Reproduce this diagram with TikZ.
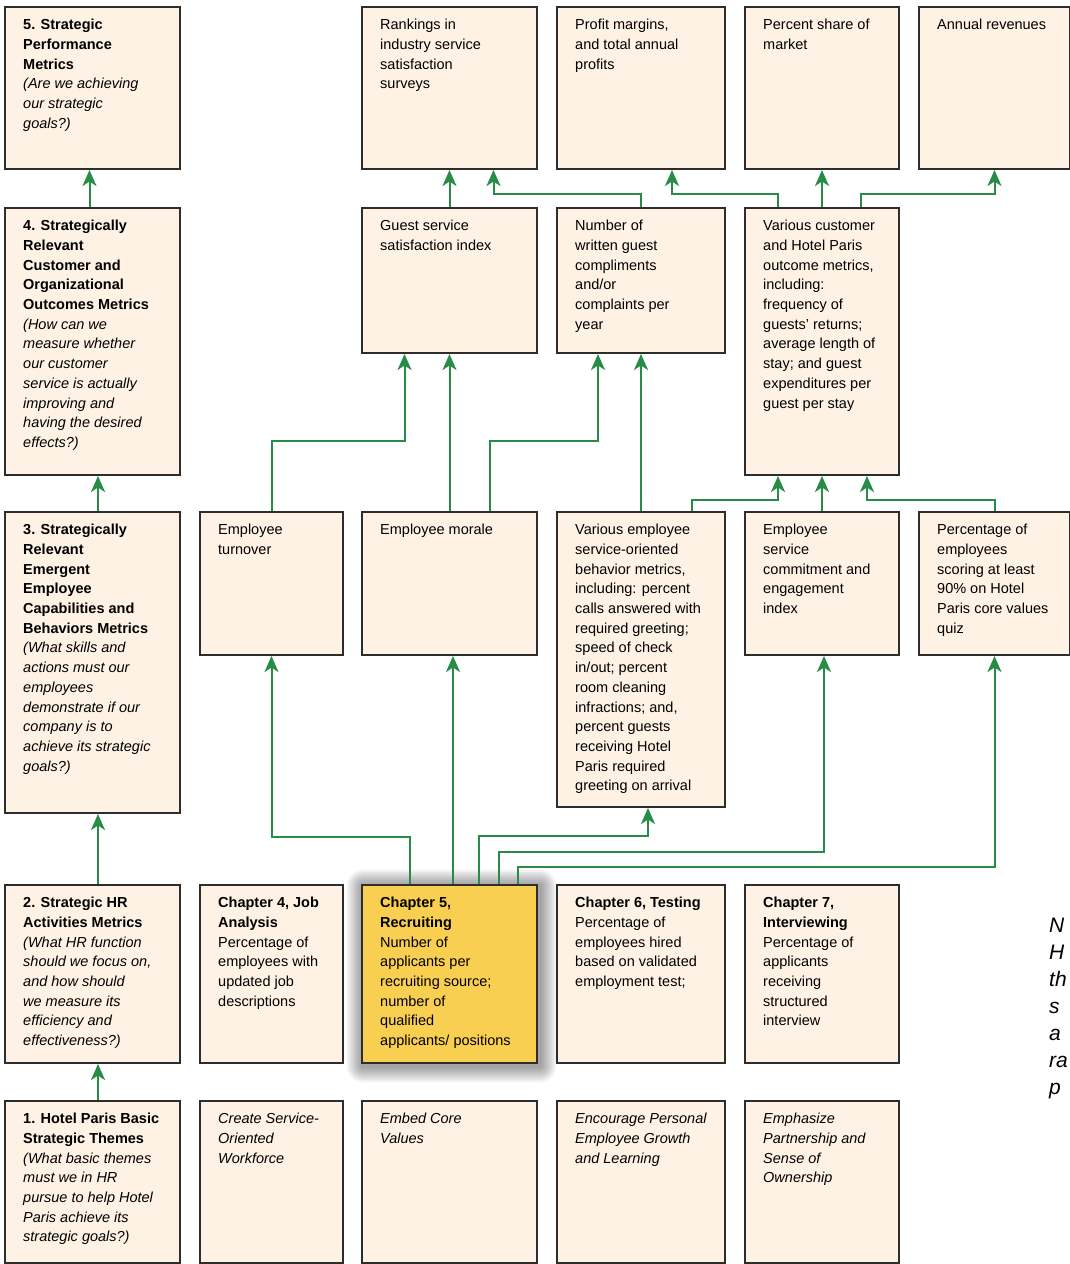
\documentclass[tikz,border=0pt]{standalone}
\usepackage{fontspec}
\setmainfont{Liberation Sans}
\usepackage{tikz}
\usetikzlibrary{positioning, arrows.meta, calc, backgrounds}
\definecolor{cream}{RGB}{254,242,228}
\definecolor{gold}{RGB}{248,207,80}
\definecolor{edge}{RGB}{45,45,45}
\definecolor{leaf}{RGB}{38,140,70}
\tikzset{
  cell/.style={draw=edge, line width=2pt, fill=cream, anchor=north west, inner sep=0pt},
  hot/.style={cell, fill=gold},
  note/.style={anchor=north west, align=left, inner sep=0pt, xshift=19pt, yshift=-13pt,
    font=\fontsize{14.5}{19.7}\selectfont},
  link/.style={draw=leaf, line width=2pt, -{Stealth[length=16pt, width=14pt, inset=4.5pt]}},
}

\begin{document}
\begin{tikzpicture}[x=1pt, y=-1pt]
  \useasboundingbox (0,0) rectangle (1070,1264);

  % left column: the five levels
  \node[cell, minimum width=175pt, minimum height=162pt] (perf) at (4,6) {};
  \node[note] (perf-t) at (perf.north west) {\textbf{5. Strategic}\\\textbf{Performance}\\\textbf{Metrics}\\\textit{(Are we achieving}\\\textit{our strategic}\\\textit{goals?)}};
  \node[cell, minimum width=175pt, minimum height=267pt] (outc) at (4,207) {};
  \node[note] (outc-t) at (outc.north west) {\textbf{4. Strategically}\\\textbf{Relevant}\\\textbf{Customer and}\\\textbf{Organizational}\\\textbf{Outcomes Metrics}\\\textit{(How can we}\\\textit{measure whether}\\\textit{our customer}\\\textit{service is actually}\\\textit{improving and}\\\textit{having the desired}\\\textit{effects?)}};
  \node[cell, minimum width=175pt, minimum height=301pt] (emerg) at (4,511) {};
  \node[note] (emerg-t) at (emerg.north west) {\textbf{3. Strategically}\\\textbf{Relevant}\\\textbf{Emergent}\\\textbf{Employee}\\\textbf{Capabilities and}\\\textbf{Behaviors Metrics}\\\textit{(What skills and}\\\textit{actions must our}\\\textit{employees}\\\textit{demonstrate if our}\\\textit{company is to}\\\textit{achieve its strategic}\\\textit{goals?)}};
  \node[cell, minimum width=175pt, minimum height=178pt] (hract) at (4,884) {};
  \node[note] (hract-t) at (hract.north west) {\textbf{2. Strategic HR}\\\textbf{Activities Metrics}\\\textit{(What HR function}\\\textit{should we focus on,}\\\textit{and how should}\\\textit{we measure its}\\\textit{efficiency and}\\\textit{effectiveness?)}};
  \node[cell, minimum width=175pt, minimum height=162pt] (themes) at (4,1100) {};
  \node[note] (themes-t) at (themes.north west) {\textbf{1. Hotel Paris Basic}\\\textbf{Strategic Themes}\\\textit{(What basic themes}\\\textit{must we in HR}\\\textit{pursue to help Hotel}\\\textit{Paris achieve its}\\\textit{strategic goals?)}};

  % strategic performance metrics
  \node[cell, minimum width=175pt, minimum height=162pt] (rank) at (361,6) {};
  \node[note] (rank-t) at (rank.north west) {Rankings in\\industry service\\satisfaction\\surveys};
  \node[cell, minimum width=168pt, minimum height=162pt] (profit) at (556,6) {};
  \node[note] (profit-t) at (profit.north west) {Profit margins,\\and total annual\\profits};
  \node[cell, minimum width=154pt, minimum height=162pt] (share) at (744,6) {};
  \node[note] (share-t) at (share.north west) {Percent share of\\market};
  \node[cell, minimum width=151pt, minimum height=162pt] (revenue) at (918,6) {};
  \node[note] (revenue-t) at (revenue.north west) {Annual revenues};

  % customer and organizational outcomes
  \node[cell, minimum width=175pt, minimum height=145pt] (guest) at (361,207) {};
  \node[note] (guest-t) at (guest.north west) {Guest service\\satisfaction index};
  \node[cell, minimum width=168pt, minimum height=145pt] (written) at (556,207) {};
  \node[note] (written-t) at (written.north west) {Number of\\written guest\\compliments\\and/or\\complaints per\\year};
  \node[cell, minimum width=154pt, minimum height=267pt] (custom) at (744,207) {};
  \node[note] (custom-t) at (custom.north west) {Various customer\\and Hotel Paris\\outcome metrics,\\including:\\frequency of\\guests' returns;\\average length of\\stay; and guest\\expenditures per\\guest per stay};

  % employee capabilities and behaviors
  \node[cell, minimum width=143pt, minimum height=143pt] (turnover) at (199,511) {};
  \node[note] (turnover-t) at (turnover.north west) {Employee\\turnover};
  \node[cell, minimum width=175pt, minimum height=143pt] (morale) at (361,511) {};
  \node[note] (morale-t) at (morale.north west) {Employee morale};
  \node[cell, minimum width=168pt, minimum height=295pt] (behav) at (556,511) {};
  \node[note] (behav-t) at (behav.north west) {Various employee\\service-oriented\\behavior metrics,\\including: percent\\calls answered with\\required greeting;\\speed of check\\in/out; percent\\room cleaning\\infractions; and,\\percent guests\\receiving Hotel\\Paris required\\greeting on arrival};
  \node[cell, minimum width=154pt, minimum height=143pt] (commit) at (744,511) {};
  \node[note] (commit-t) at (commit.north west) {Employee\\service\\commitment and\\engagement\\index};
  \node[cell, minimum width=151pt, minimum height=143pt] (quiz) at (918,511) {};
  \node[note] (quiz-t) at (quiz.north west) {Percentage of\\employees\\scoring at least\\90\% on Hotel\\Paris core values\\quiz};

  % HR activities
  \node[cell, minimum width=143pt, minimum height=178pt] (ch4) at (199,884) {};
  \node[note] (ch4-t) at (ch4.north west) {\textbf{Chapter 4, Job}\\\textbf{Analysis}\\Percentage of\\employees with\\updated job\\descriptions};
  \node[hot, minimum width=175pt, minimum height=178pt] (ch5) at (361,884) {};
  \node[note] (ch5-t) at (ch5.north west) {\textbf{Chapter 5,}\\\textbf{Recruiting}\\Number of\\applicants per\\recruiting source;\\number of\\qualified\\applicants/ positions};
  \node[cell, minimum width=168pt, minimum height=178pt] (ch6) at (556,884) {};
  \node[note] (ch6-t) at (ch6.north west) {\textbf{Chapter 6, Testing}\\Percentage of\\employees hired\\based on validated\\employment test;};
  \node[cell, minimum width=154pt, minimum height=178pt] (ch7) at (744,884) {};
  \node[note] (ch7-t) at (ch7.north west) {\textbf{Chapter 7,}\\\textbf{Interviewing}\\Percentage of\\applicants\\receiving\\structured\\interview};

  % basic strategic themes
  \node[cell, minimum width=143pt, minimum height=162pt] (workforce) at (199,1100) {};
  \node[note] (workforce-t) at (workforce.north west) {\textit{Create Service-}\\\textit{Oriented}\\\textit{Workforce}};
  \node[cell, minimum width=175pt, minimum height=162pt] (values) at (361,1100) {};
  \node[note] (values-t) at (values.north west) {\textit{Embed Core}\\\textit{Values}};
  \node[cell, minimum width=168pt, minimum height=162pt] (growth) at (556,1100) {};
  \node[note] (growth-t) at (growth.north west) {\textit{Encourage Personal}\\\textit{Employee Growth}\\\textit{and Learning}};
  \node[cell, minimum width=154pt, minimum height=162pt] (owner) at (744,1100) {};
  \node[note] (owner-t) at (owner.north west) {\textit{Emphasize}\\\textit{Partnership and}\\\textit{Sense of}\\\textit{Ownership}};

  % text at the right edge
  \node[anchor=north west, align=left, inner sep=0pt, font=\fontsize{21}{27}\selectfont\itshape] (cut) at (1049,918) {N\\H\\th\\s\\a\\ra\\p};

  % white page and soft shadow round the recruiting box
  \begin{pgfonlayer}{background}
    \fill[white] (0,0) rectangle (1070,1264);
    \foreach \s in {2,4,...,16}
      \fill[black, opacity=0.05, rounded corners=\s pt] ($(ch5.north west)+(-\s+2,-\s+2)$) rectangle ($(ch5.south east)+(\s+2,\s+2)$);
  \end{pgfonlayer}

  % left column chain
  \draw[link] ([xshift=-3pt]outc.north) -- ([xshift=-3pt]perf.south);
  \draw[link] ([xshift=5.5pt]emerg.north) -- ([xshift=5.5pt]outc.south);
  \draw[link] ([xshift=5.5pt]hract.north) -- ([xshift=5.5pt]emerg.south);
  \draw[link] ([xshift=5.5pt]themes.north) -- ([xshift=5.5pt]hract.south);

  % outcomes to performance
  \draw[link] (guest.north) -- (rank.south);
  \draw[link] (written.north) -- ++(0,-13) -| ([xshift=44pt]rank.south);
  \draw[link] ([xshift=-44pt]custom.north) -- ++(0,-13) -| ([xshift=31pt]profit.south);
  \draw[link] (custom.north) -- (share.south);
  \draw[link] ([xshift=39pt]custom.north) -- ++(0,-13) -| (revenue.south);

  % behaviors to outcomes
  \draw[link] (turnover.north) -- ++(0,-70) -| ([xshift=-45pt]guest.south);
  \draw[link] (morale.north) -- (guest.south);
  \draw[link] ([xshift=40pt]morale.north) -- ++(0,-70) -| ([xshift=-43pt]written.south);
  \draw[link] (behav.north) -- (written.south);
  \draw[link] ([xshift=51pt]behav.north) -- ++(0,-11) -| ([xshift=-44pt]custom.south);
  \draw[link] (commit.north) -- (custom.south);
  \draw[link] (quiz.north) -- ++(0,-11) -| ([xshift=45pt]custom.south);

  % recruiting to behaviors
  \draw[link] ([xshift=-40pt]ch5.north) -- ++(0,-47) -| (turnover.south);
  \draw[link] ([xshift=3.5pt]ch5.north) -- ([xshift=3.5pt]morale.south);
  \draw[link] ([xshift=29.5pt]ch5.north) -- ++(0,-48) -| ([xshift=7pt]behav.south);
  \draw[link] ([xshift=49.5pt]ch5.north) -- ++(0,-32) -| ([xshift=2pt]commit.south);
  \draw[link] ([xshift=68.5pt]ch5.north) -- ++(0,-17) -| (quiz.south);
\end{tikzpicture}
\end{document}
